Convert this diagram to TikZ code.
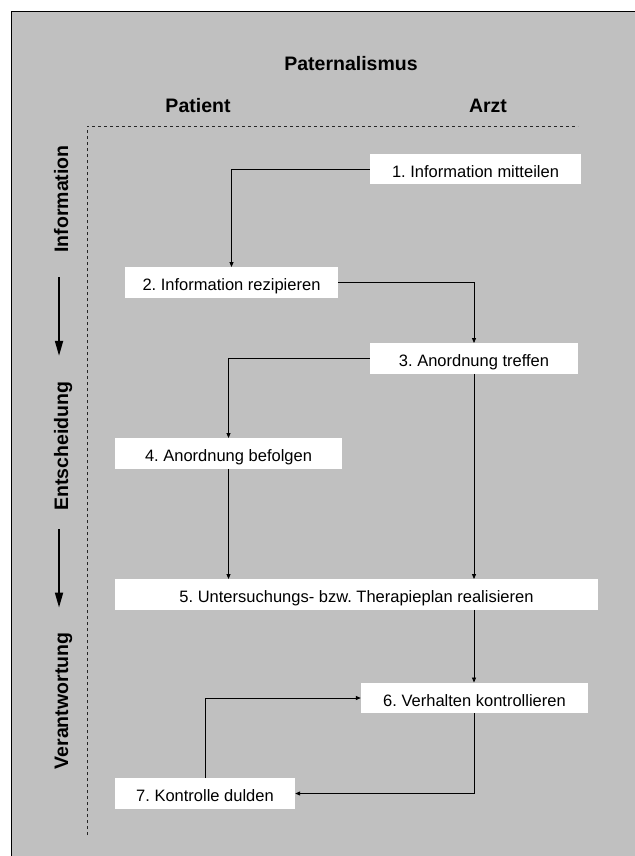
\documentclass[tikz,border=0pt]{standalone}
\usepackage{fontspec}
\setmainfont{Liberation Sans}
\usetikzlibrary{arrows.meta,calc}
\definecolor{bg}{RGB}{192,192,192}
\frenchspacing
\begin{document}
\begin{tikzpicture}[x=1pt,y=-1pt,
 stepbox/.style={fill=white,inner xsep=0pt,inner ysep=0pt,minimum height=30.5pt,text height=16pt,text depth=0pt,font=\fontsize{16.5}{18}\selectfont},
 lbl/.style={font=\fontsize{19.5}{22}\selectfont\bfseries,inner sep=0pt},
 flow/.style={-{Triangle[length=5pt,width=4pt]},line width=.8pt},
 phase/.style={-{Triangle[length=15pt,width=8pt]},line width=1.8pt}]
\useasboundingbox(0,0)rectangle(634,856);
\fill[bg](11,12)rectangle(640,860);
\draw[line width=1pt](640,12)--(11,12)--(11,860);
% headings
\node[lbl,anchor=base](title)at(351,71){Paternalismus};
\node[lbl,anchor=base](pat)at(198,113){Patient};\node[lbl,anchor=base](arzt)at(488,113){Arzt};
\draw[black!85,line width=.9pt,dash pattern=on 3pt off 3pt](87,835)--(87,126)--(578,126);
% phases
\node[lbl,rotate=90,anchor=base](lInfo)at(68,199){Information};
\node[lbl,rotate=90,anchor=base](lEnt)at(68,446){Entscheidung};
\node[lbl,rotate=90,anchor=base](lVer)at(68,701){Verantwortung};
\draw[phase,shorten <=24.5pt,shorten >=25.5pt]([xshift=-2pt]lInfo.west)--([xshift=-2pt]lInfo.west|-lEnt.east);
\draw[phase,shorten <=18.5pt,shorten >=25pt]([xshift=-2pt]lInfo.west|-lEnt.west)--([xshift=-2pt]lInfo.west|-lVer.east);
% steps
\node[stepbox,minimum width=211pt](b1)at(475.5,169){1. Information mitteilen};
\node[stepbox,minimum width=213pt](b2)at(231.5,282.5){2. Information rezipieren};
\node[stepbox,minimum width=208pt](b3)at(474,358.5){3. Anordnung treffen};
\node[stepbox,minimum width=227pt](b4)at(228.5,453.5){4. Anordnung befolgen};
\node[stepbox,minimum width=483pt](b5)at(356.5,594.5){5. Untersuchungs- bzw. Therapieplan realisieren};
\node[stepbox,minimum width=227pt](b6)at(474.5,698){6. Verhalten kontrollieren};
\node[stepbox,minimum width=180pt](b7)at(205,793.5){7. Kontrolle dulden};
\draw[flow](b1.west)-|(b2.north);\draw[flow](b2.east)-|(b3.north);
\draw[flow](b3.west)-|(b4.north);
\draw[flow](b4.south)--(b4.south|-b5.north);\draw[flow](b3.south)--(b3.south|-b5.north);
\draw[flow](b3.south|-b5.south)--(b3.south|-b6.north);
\draw[flow](b6.south)|-(b7.east);\draw[flow](b7.north)|-(b6.west);
\end{tikzpicture}
\end{document}
